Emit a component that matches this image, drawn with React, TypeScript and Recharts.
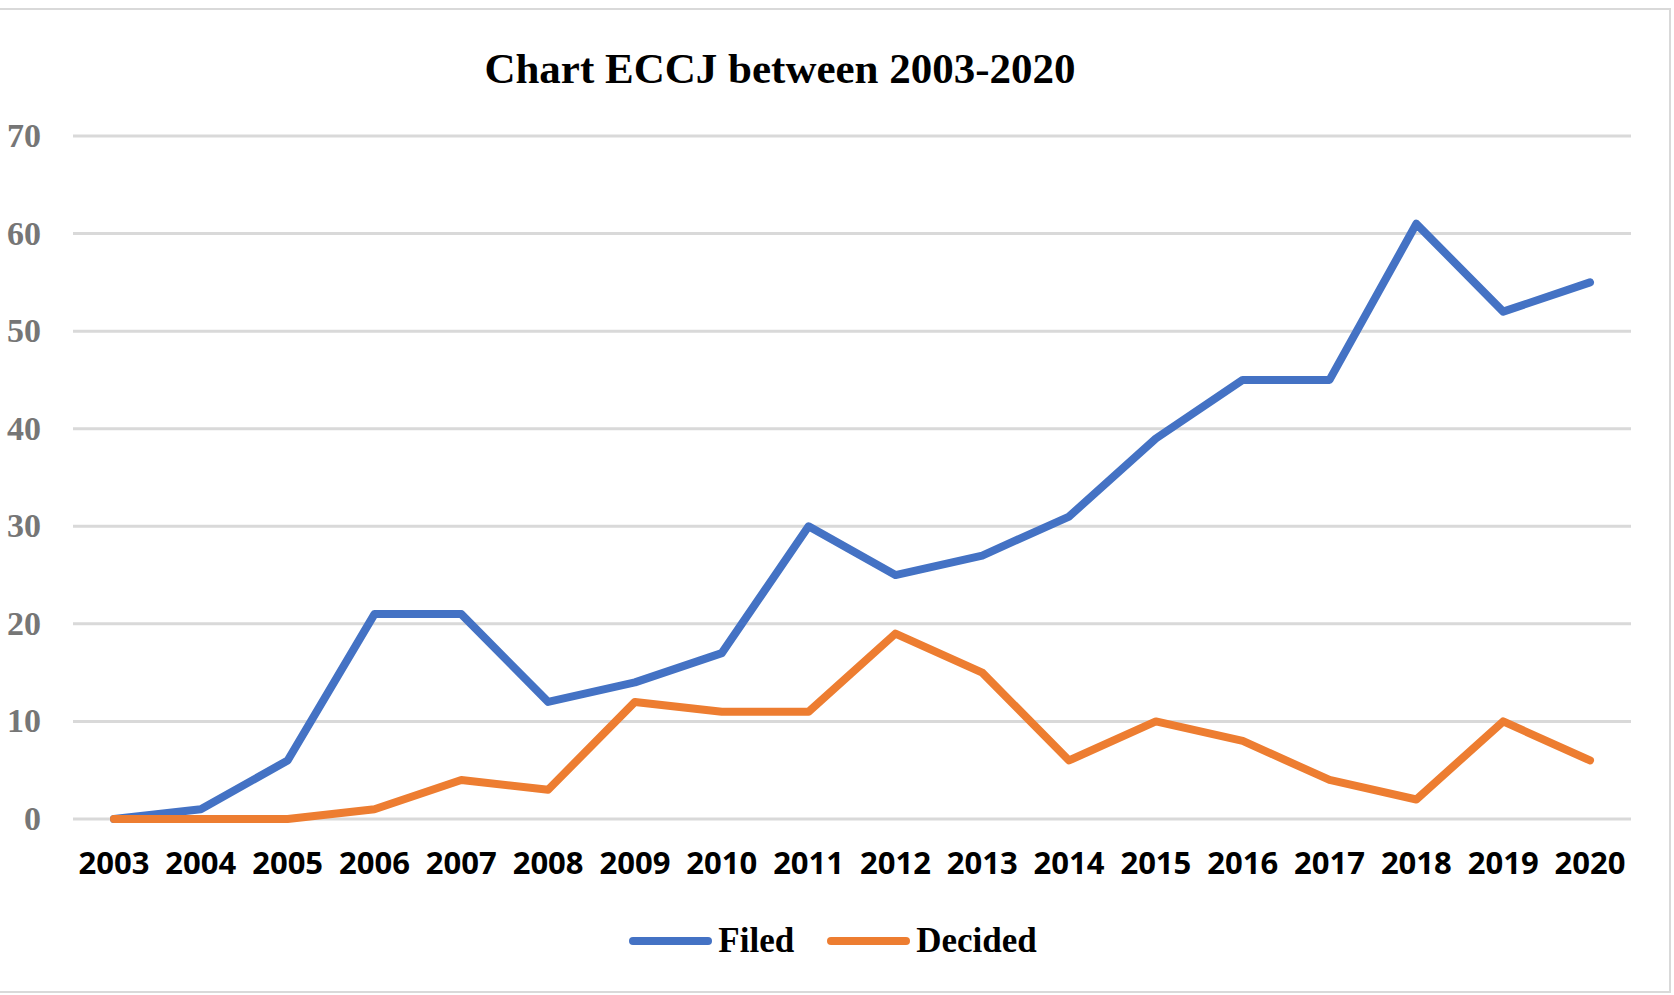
import React from 'react';
import { LineChart, Line, XAxis, YAxis, CartesianGrid, Legend } from 'recharts';

const years = ['2003', '2004', '2005', '2006', '2007', '2008', '2009', '2010', '2011', '2012', '2013', '2014', '2015', '2016', '2017', '2018', '2019', '2020'];
const filed = [0, 1, 6, 21, 21, 12, 14, 17, 30, 25, 27, 31, 39, 45, 45, 61, 52, 55];
const decided = [0, 0, 0, 1, 4, 3, 12, 11, 11, 19, 15, 6, 10, 8, 4, 2, 10, 6];
const yTicks = [0, 10, 20, 30, 40, 50, 60, 70];

const data = years.map((y, i) => ({ year: y, Filed: filed[i], Decided: decided[i] }));

const BLUE = '#4472C4';
const ORANGE = '#ED7D31';
const SERIF = '"Liberation Serif", "Times New Roman", serif';

const XTick = (props: any) => {
  const { x, y, payload } = props;
  return (
    <text x={x} y={y + 25} textAnchor="middle" fontFamily='"Open Sans", sans-serif' fontWeight={700} fontSize={31} fill="#000">
      <tspan x={x} dy="0.71em">{payload.value}</tspan>
    </text>
  );
};

const YTick = (props: any) => {
  const { y, payload } = props;
  return (
    <text x={41} y={y + 11} textAnchor="end" fontFamily={SERIF} fontWeight={700} fontSize={34} fill="#767676">
      {payload.value}
    </text>
  );
};

const LegendContent = () => {
  const items = [
    { name: 'Filed', color: BLUE },
    { name: 'Decided', color: ORANGE },
  ];
  return (
    <div style={{ display: 'flex', justifyContent: 'center', alignItems: 'center', height: 50, marginLeft: -8 }}>
      {items.map((it, i) => (
        <div key={it.name} style={{ display: 'flex', alignItems: 'center', marginLeft: i === 0 ? 0 : 33 }}>
          <svg width={83} height={12} style={{ display: 'block' }}>
            <line x1={4} y1={6} x2={79} y2={6} stroke={it.color} strokeWidth={8} strokeLinecap="round" />
          </svg>
          <span style={{ fontFamily: SERIF, fontWeight: 700, fontSize: 35, color: '#000', marginLeft: 6, lineHeight: '50px' }}>{it.name}</span>
        </div>
      ))}
    </div>
  );
};

export default function App() {
  return (
    <div style={{ position: 'absolute', left: 0, top: 0, width: 1674, height: 995, background: '#fff', overflow: 'hidden' }}>
      <div style={{ position: 'absolute', left: -2, top: 8, width: 1673, height: 985, border: '2px solid #d9d9d9', boxSizing: 'border-box' }} />
      <svg width={1674} height={120} style={{ position: 'absolute', left: 0, top: 0 }}>
        <text x={780} y={83} textAnchor="middle" fontFamily={SERIF} fontWeight={700} fontSize={43} fill="#000">
          Chart ECCJ between 2003-2020
        </text>
      </svg>
      <div style={{ position: 'absolute', left: 0, top: 0 }}>
        <LineChart width={1674} height={995} data={data} margin={{ top: 136, right: 43, left: 0, bottom: 56 }}>
          <CartesianGrid vertical={false} stroke="#d9d9d9" strokeWidth={3} />
          <XAxis dataKey="year" axisLine={false} tickLine={false} padding={{ left: 41, right: 41 }} tick={<XTick />} height={70} interval={0} />
          <YAxis domain={[0, 70]} ticks={yTicks} axisLine={false} tickLine={false} width={73} tick={<YTick />} interval={0} />
          <Legend verticalAlign="bottom" height={50} content={<LegendContent />} wrapperStyle={{ top: 916, left: 0, width: 1674 }} />
          <Line type="linear" dataKey="Filed" stroke={BLUE} strokeWidth={8} strokeLinecap="round" strokeLinejoin="round" dot={false} activeDot={false} isAnimationActive={false} />
          <Line type="linear" dataKey="Decided" stroke={ORANGE} strokeWidth={8} strokeLinecap="round" strokeLinejoin="round" dot={false} activeDot={false} isAnimationActive={false} />
        </LineChart>
      </div>
    </div>
  );
}
